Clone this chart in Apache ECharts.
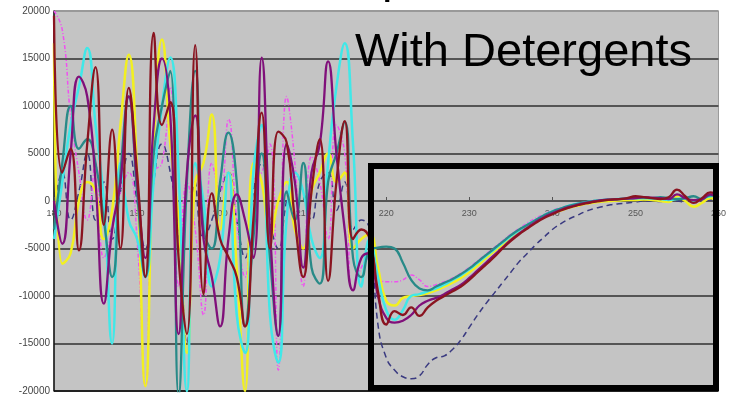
<!DOCTYPE html>
<html>
<head>
<meta charset="utf-8">
<script src="https://cdn.jsdelivr.net/npm/echarts@6/dist/echarts.min.js"></script>
<style>
  html, body { margin: 0; padding: 0; background: #fff; }
  #chart { width: 729px; height: 396px; }
</style>
</head>
<body>
<div id="chart"></div>
<script>
  // wavelength (nm) for every sample
  let wavelengths = [
    180, 181, 182, 183, 184, 185, 186, 187, 188, 189,
    190, 191, 192, 193, 194, 195, 196, 197, 198, 199,
    200, 201, 202, 203, 204, 205, 206, 207, 208, 209,
    210, 211, 212, 213, 214, 215, 216, 217, 218, 219,
    220, 221, 222, 223, 224, 225, 226, 227, 228, 229,
    230, 231, 232, 233, 234, 235, 236, 237, 238, 239,
    240, 241, 242, 243, 244, 245, 246, 247, 248, 249,
    250, 251, 252, 253, 254, 255, 256, 257, 258, 259,
    260
  ];
  let xTicks = [180, 190, 200, 210, 220, 230, 240, 250, 260];
  let yTicks = [-20000, -15000, -10000, -5000, 0, 5000, 10000, 15000, 20000];

  let navy = [
    -1000, 3000, -2000, 1000, 5000, -2000, 2000, -4000, 1000, 5000,
    0, -5000, 2000, 6000, 3000, -3000, -15000, 2000, -4000, -2000,
    1000, 3000, -2000, -6000, 1000, 4000, -2000, -5000, 0, 3000,
    1000, -2000, 2000, 3000, -1000, 2000, -3000, -2000, -3000, -13000,
    -16500, -17800, -18500, -18700, -18400, -17200, -16500, -16300, -15600, -14600,
    -13300, -12000, -10800, -9700, -8600, -7500, -6400, -5500, -4600, -3800,
    -3000, -2400, -1900, -1500, -1100, -800, -600, -400, -300, -200,
    -100, 0, 0, -50, 0, 0, -100, 0, 0, 100,
    200
  ];
  let magenta = [
    20000, 18000, 9000, 3000, -2000, 4000, -6000, -3000, 1000, 3000,
    -4000, -19500, 3000, 4000, 12000, -9000, 2000, -3000, -12000, 4000,
    1000, 8600, -2000, -8000, 2000, 3000, 6000, -17800, 11000, 4000,
    -9000, 4700, 2000, -4000, 8000, 5000, -9400, -7000, -6000, -8000,
    -8500, -8500, -8300, -7800, -8300, -9000, -8800, -8500, -8100, -7600,
    -7000, -6300, -5600, -4900, -4200, -3500, -2900, -2300, -1800, -1400,
    -1000, -700, -500, -300, -200, -100, 0, 50, 100, 150,
    200, 200, 150, 100, 0, 300, 200, 0, 100, 400,
    300
  ];
  let yellow = [
    16600, -6600, -5500, 0, 2000, 1000, -4000, -1000, 8000, 15400,
    3000, -19500, 6000, 17000, 6000, -2000, -16000, 2000, 4000, 9100,
    -3000, 3000, -7000, -20000, 4000, 2000, -4000, 0, 2000, -3000,
    -5000, 1000, 3000, 5000, 2000, 3000, -5000, -4000, -3500, -7000,
    -10500, -11000, -10200, -10000, -9900, -9700, -9400, -9000, -8600, -8100,
    -7500, -6800, -6000, -5300, -4600, -3900, -3300, -2700, -2100, -1700,
    -1300, -1000, -700, -500, -300, -150, -50, 0, 50, 100,
    100, 150, 100, 0, -100, 500, 0, -600, -200, 300,
    200
  ];
  let cyan = [
    -4000, 2000, 8000, 12000, 16100, 8000, 0, -15000, 4000, -2000,
    -4000, -8000, 2000, 10000, 15100, 3000, -20000, 4000, 0, -9000,
    -6000, 3000, -12000, -16000, 3000, 8000, -12000, -17000, -2000, 3000,
    1000, -4000, -6000, 4000, 12000, 16600, 6000, -9000, -4000, -8000,
    -11500, -12500, -11500, -10000, -9800, -9500, -9200, -8800, -8300, -7800,
    -7200, -6500, -5800, -5100, -4400, -3700, -3100, -2500, -2000, -1500,
    -1100, -800, -500, -300, -150, 0, 100, 150, 200, 250,
    300, 300, 250, 200, 100, 200, 300, 0, 300, 500,
    600
  ];
  let teal = [
    -3000, 4000, 10000, 5500, 6500, 4000, -2000, -8000, 3000, 11000,
    1000, -8000, 5000, 10000, 13700, -20500, 2000, 13700, -3000, -5000,
    2000, 7200, 2000, -13200, -4000, 5000, -6000, -14200, 1000, -2000,
    4000, -7000, -8700, 2000, 5000, 8300, -6000, -8000, -5200, -4900,
    -4800, -5000, -6500, -8300, -9200, -9400, -9000, -8600, -8200, -7700,
    -7100, -6400, -5700, -5000, -4300, -3600, -3000, -2500, -2000, -1500,
    -1100, -800, -500, -300, -150, 0, 100, 150, 200, 250,
    300, 350, 300, 400, 300, 200, 300, 500, 200, 600,
    500
  ];
  let purple = [
    0, -4500, 5000, 13100, 11000, 2000, -10800, -3000, 2000, 11000,
    2000, -6000, 8000, 15000, 9000, -14000, 3000, 9000, -4000, -8000,
    -13200, -4000, 700, -2000, -6000, 15100, -3000, -14200, 6000, 2000,
    -7000, 3000, 6000, 14700, 5000, -3000, -9400, -6000, -5500, -10000,
    -12300, -12800, -12600, -12000, -11000, -10500, -10200, -9800, -9300, -8800,
    -8100, -7300, -6500, -5700, -4900, -4100, -3400, -2800, -2200, -1700,
    -1300, -950, -650, -400, -200, -50, 100, 150, 200, 250,
    300, 400, 350, 300, 200, 700, 300, 100, 200, 700,
    300
  ];
  let maroon = [
    19500, 3000, 5500, -5200, 6000, 14100, -2500, 7500, -5000, 11900,
    3000, -8000, 17700, 8000, 10400, -6000, -14000, 16400, -9800, 800,
    -4000, -5900, -8000, -13200, -2000, 9300, -5000, 7300, 6200, -2000,
    -8000, 1000, 6500, -8400, 2000, 8400, -4000, -3000, -4000, -9500,
    -13000, -11600, -12000, -11200, -12100, -11200, -10500, -10000, -9500, -9000,
    -8300, -7500, -6700, -5900, -5000, -4200, -3500, -2900, -2300, -1800,
    -1400, -1000, -700, -450, -250, -100, 50, 150, 200, 300,
    500, 400, 300, 200, 400, 1200, 500, -200, 300, 900,
    400
  ];

  let dom = document.getElementById('chart');
  let myChart = echarts.init(dom);

  function pairs(values) {
    return wavelengths.map(function (w, i) { return [w, values[i]]; });
  }
  function line(name, values, color, width, type) {
    return {
      type: 'line',
      name: name,
      data: pairs(values),
      smooth: 0.5,
      symbol: 'none',
      lineStyle: { color: color, width: width, type: type || 'solid' }
    };
  }

  let option = {
    backgroundColor: '#fff',
    animation: false,
    grid: {
      left: 54, right: 10, top: 11, bottom: 3,
      show: true,
      backgroundColor: '#c4c4c4',
      borderColor: '#9a9a9a',
      borderWidth: 1
    },
    xAxis: {
      type: 'value',
      min: xTicks[0],
      max: xTicks[xTicks.length - 1],
      interval: 10,
      position: 'bottom',
      offset: -191,   // sits on the zero line
      axisLine: { onZero: false, lineStyle: { color: '#555', width: 1 } },
      axisTick: { show: true, inside: true, length: 3, lineStyle: { color: '#555' } },
      splitLine: { show: false },
      axisLabel: {
        margin: 9,
        fontSize: 9,
        color: '#555',
        fontFamily: 'Liberation Sans'
      }
    },
    yAxis: {
      type: 'value',
      min: yTicks[0],
      max: yTicks[yTicks.length - 1],
      interval: 5000,
      axisLine: { show: true, onZero: false, lineStyle: { color: '#111', width: 1.5 } },
      axisTick: { show: false },
      axisLabel: {
        margin: 4,
        fontSize: 10,
        color: '#444',
        fontFamily: 'Liberation Sans',
        formatter: function (v) { return String(v); }
      },
      splitLine: {
        show: true,
        lineStyle: {
          color: ['#222', '#555', '#555', '#555', '#555', '#555', '#555', '#555', '#999'],
          width: 2
        }
      }
    },
    series: [
      line('navy', navy, '#3a3a80', 1.5, [6, 4]),
      line('magenta', magenta, '#f050f0', 1.5, [4, 2, 1, 2]),
      line('yellow', yellow, '#f2f020', 2.5),
      line('cyan', cyan, '#40e8e8', 2.5),
      line('teal', teal, '#288a88', 2.3),
      line('purple', purple, '#80107a', 2.3),
      line('maroon', maroon, '#8a1420', 2.3)
    ],
    graphic: [
      {
        type: 'text',
        left: 355, top: 30,
        z: 100,
        style: {
          text: 'With Detergents',
          fontSize: 47,
          fontFamily: 'Liberation Sans',
          fill: '#000'
        }
      },
      {
        type: 'text',
        left: 382, top: -44,
        z: 100,
        style: {
          text: 'p',
          fontSize: 47,
          fontFamily: 'Liberation Sans',
          fill: '#000'
        }
      },
      {
        type: 'rect',
        z: 100,
        shape: { x: 371, y: 166, width: 345, height: 222 },
        style: { fill: 'none', stroke: '#000', lineWidth: 6 }
      }
    ]
  };
  if (option && typeof option === 'object') {
    myChart.setOption(option, true);
  }
</script>
</body>
</html>
